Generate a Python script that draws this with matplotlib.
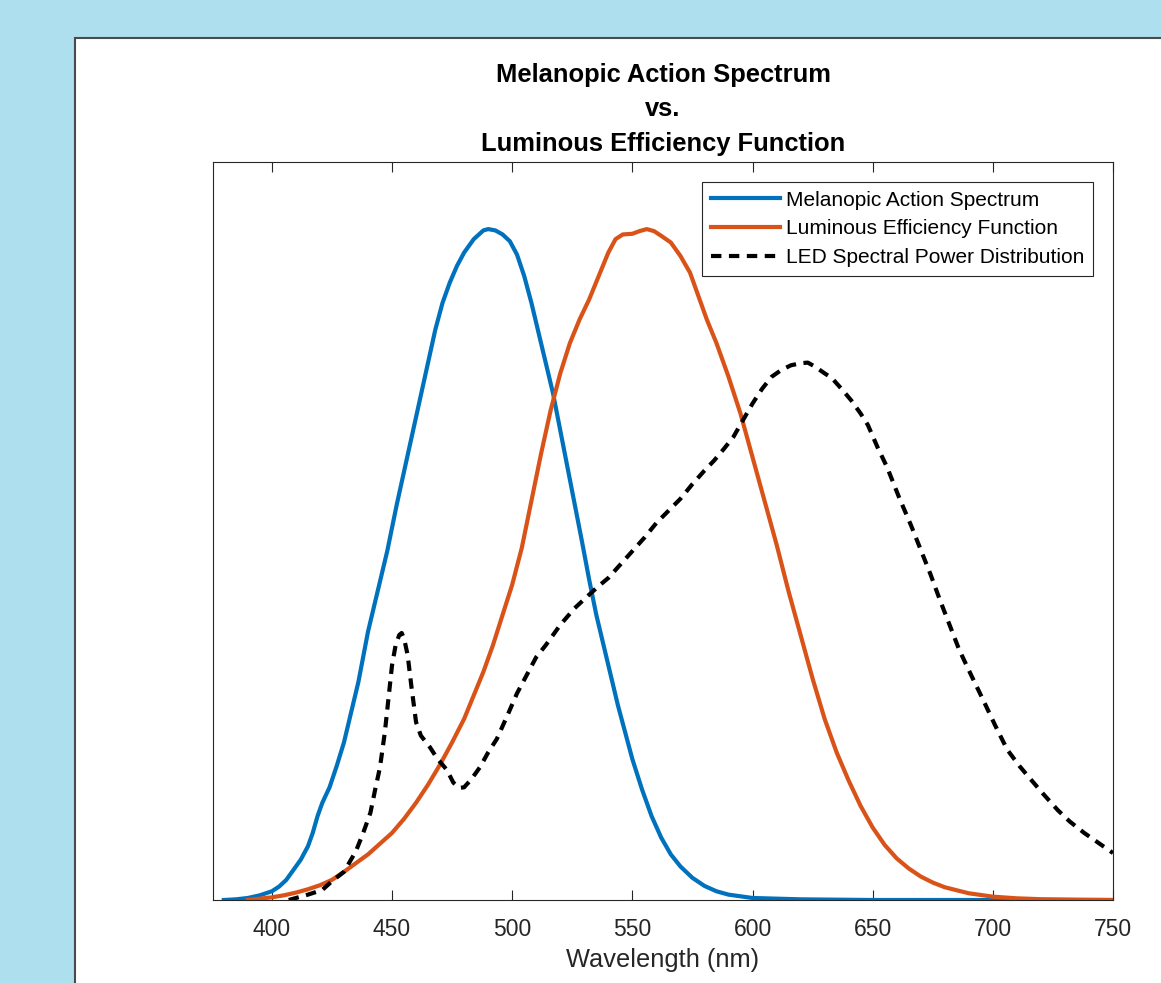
import matplotlib
matplotlib.use("Agg")
import matplotlib.pyplot as plt
from matplotlib.patches import Rectangle

# melanopic action spectrum (blue)
mel_nm = [380, 385, 390, 395, 400, 403, 406, 409, 412, 415, 417, 419, 421, 424,
          427, 430, 433, 436, 440, 444, 448, 452, 456, 460, 464, 468, 471, 474,
          477, 480, 484, 488, 490, 493, 496, 499, 502, 505, 508, 511, 514, 517,
          520, 523, 526, 529, 532, 535, 538, 541, 544, 547, 550, 554, 558, 562,
          566, 570, 575, 580, 585, 590, 600, 620, 650, 700, 750]
mel_val = [0.0, 0.001, 0.003, 0.007, 0.013, 0.02, 0.03, 0.045, 0.06, 0.08, 0.1,
           0.125, 0.145, 0.168, 0.2, 0.235, 0.28, 0.325, 0.40, 0.46, 0.52, 0.59,
           0.655, 0.72, 0.785, 0.85, 0.89, 0.92, 0.945, 0.965, 0.985, 0.998, 1.0,
           0.998, 0.992, 0.982, 0.962, 0.93, 0.89, 0.845, 0.8, 0.755, 0.70, 0.645,
           0.59, 0.535, 0.478, 0.425, 0.38, 0.335, 0.29, 0.25, 0.21, 0.165, 0.125,
           0.093, 0.068, 0.05, 0.033, 0.021, 0.013, 0.008, 0.003, 0.001, 0.0, 0.0,
           0.0]

# luminous efficiency function (orange)
lum_nm = [390, 395, 400, 405, 410, 415, 420, 425, 430, 435, 440, 445, 450, 455,
          460, 465, 470, 475, 480, 484, 488, 492, 496, 500, 504, 508, 512, 516,
          520, 524, 528, 532, 536, 540, 543, 546, 550, 553, 556, 559, 562, 566,
          570, 574, 578, 581, 585, 590, 595, 600, 605, 610, 615, 620, 625, 630,
          635, 640, 645, 650, 655, 660, 665, 670, 675, 680, 690, 700, 710, 720,
          735, 750]
lum_val = [0.0, 0.002, 0.004, 0.007, 0.011, 0.016, 0.022, 0.03, 0.042, 0.055,
           0.068, 0.084, 0.1, 0.121, 0.145, 0.172, 0.202, 0.235, 0.27, 0.305,
           0.34, 0.38, 0.425, 0.47, 0.525, 0.595, 0.665, 0.73, 0.785, 0.83,
           0.865, 0.895, 0.93, 0.965, 0.985, 0.992, 0.993, 0.997, 1.0, 0.997,
           0.99, 0.98, 0.96, 0.935, 0.895, 0.865, 0.83, 0.78, 0.725, 0.66,
           0.595, 0.53, 0.46, 0.395, 0.33, 0.27, 0.22, 0.178, 0.14, 0.108,
           0.082, 0.062, 0.047, 0.035, 0.026, 0.019, 0.01, 0.005, 0.0025,
           0.0012, 0.0005, 0.0]

# LED spectral power distribution (dashed)
led_nm = [407, 410, 415, 421, 425, 430, 435, 438, 441, 443, 445, 447, 448, 450,
          451.5, 453, 454, 455, 456.5, 458, 460, 462, 465.7, 469, 472.8, 475.5,
          478, 480, 483, 486.6, 490, 493.6, 498, 502, 506, 510, 514, 520, 526,
          532, 536, 540, 545, 550, 555, 560, 565, 570, 575, 580, 584, 588, 592,
          596, 600, 604, 608, 612, 616, 620, 623, 626, 630, 633, 637, 641, 645,
          648, 652, 656, 661, 666, 670, 674, 678, 682, 686, 691, 696, 701, 706,
          711, 715, 721, 727, 732, 738, 744, 750]
led_val = [0.0, 0.003, 0.008, 0.015, 0.028, 0.042, 0.073, 0.1, 0.13, 0.165,
           0.198, 0.25, 0.283, 0.35, 0.38, 0.395, 0.398, 0.39, 0.365, 0.32,
           0.265, 0.245, 0.228, 0.21, 0.194, 0.175, 0.167, 0.168, 0.18, 0.198,
           0.22, 0.24, 0.275, 0.308, 0.335, 0.362, 0.38, 0.41, 0.435, 0.455,
           0.468, 0.48, 0.5, 0.52, 0.54, 0.562, 0.58, 0.598, 0.62, 0.64, 0.655,
           0.672, 0.69, 0.715, 0.74, 0.762, 0.78, 0.79, 0.797, 0.8, 0.801,
           0.795, 0.785, 0.778, 0.762, 0.745, 0.725, 0.708, 0.675, 0.645, 0.6,
           0.558, 0.522, 0.486, 0.447, 0.41, 0.373, 0.335, 0.298, 0.26, 0.224,
           0.2, 0.183, 0.158, 0.134, 0.117, 0.1, 0.085, 0.07]

xticks = [400, 450, 500, 550, 600, 650, 700, 750]

plt.rcParams['font.family'] = ['Liberation Sans', 'DejaVu Sans']

fig = plt.figure(figsize=(11.61, 9.83), dpi=100, facecolor='#addfee')

# white panel behind the chart
panel = Rectangle((75 / 1161, -0.1), 1.0, 1 - 38 / 983 + 0.1, transform=fig.transFigure,
                  facecolor='white', edgecolor='#4a4a4a', linewidth=1.5, zorder=-1)
fig.patches.append(panel)

ax = fig.add_axes([213 / 1161, 1 - 900 / 983, 900 / 1161, 738 / 983])

ax.plot(mel_nm, mel_val, color='#0072BD', linewidth=3, label='Melanopic Action Spectrum')
ax.plot(lum_nm, lum_val, color='#D95319', linewidth=3, label='Luminous Efficiency Function')
ax.plot(led_nm, led_val, color='black', linewidth=3, linestyle=(0, (2.5, 1.8)),
        label='LED Spectral Power Distribution')

ax.set_xlim(375.5, 750)
ax.set_ylim(0, 1.1)
ax.set_xticks(xticks)
ax.set_yticks([])
ax.tick_params(axis='x', direction='in', top=True, length=7, width=0.8,
               color='#262626', labelsize=16.5, labelcolor='#262626', pad=13)
for s in ax.spines.values():
    s.set_color('#262626')
    s.set_linewidth(0.8)

ax.set_xlabel('Wavelength (nm)', fontsize=18.3, color='#262626', labelpad=5)
ax.set_title('Melanopic Action Spectrum\nvs.\nLuminous Efficiency Function',
             fontsize=18.4, fontweight='bold', linespacing=1.55, pad=8)

leg = ax.legend(loc='upper right', fontsize=15, handlelength=3.3, handletextpad=0.3,
                labelspacing=0.47, borderpad=0.42, borderaxespad=0.95, fancybox=False,
                framealpha=1)
leg.get_frame().set_edgecolor('#262626')
leg.get_frame().set_linewidth(0.8)

fig.savefig('out.png', dpi=100, facecolor=fig.get_facecolor())
